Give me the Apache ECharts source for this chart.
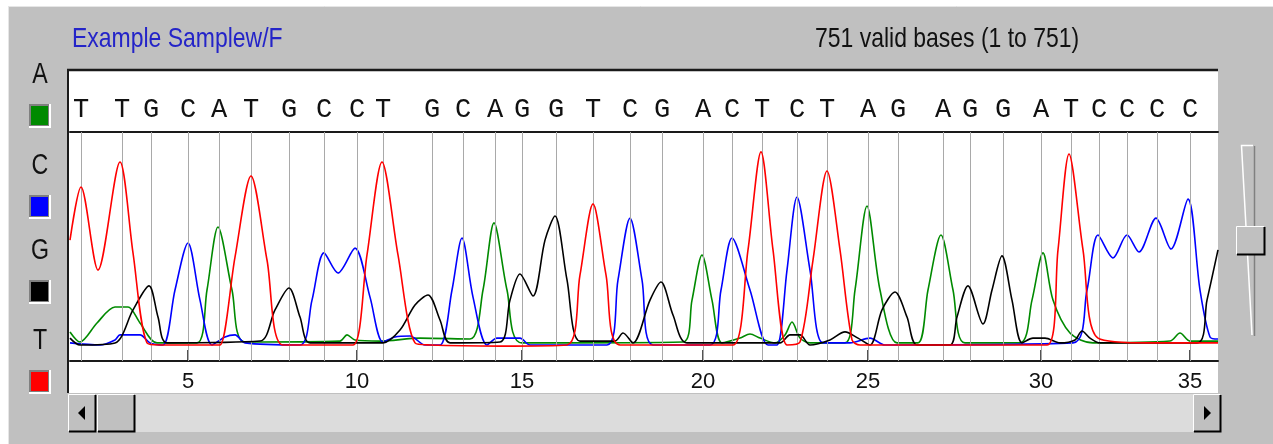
<!DOCTYPE html>
<html>
<head>
<meta charset="utf-8">
<script src="https://cdn.jsdelivr.net/npm/echarts@6/dist/echarts.min.js"></script>
<style>
  html, body { margin: 0; padding: 0; background: #ffffff; }
  #chart { width: 1273px; height: 444px; }
</style>
</head>
<body>
<div id="chart"></div>
<script>
// ---------- DATA ----------
// Trace signal, [scan, intensity] pairs
const traceA = [[0,127],[10,83],[27,166],[45,236],[58,236],[70,166],[87,79],[127,79],[137,310],[148,585],[162,310],[175,83],[270,87],[277,114],[285,92],[310,87],[350,100],[400,96],[413,310],[424,603],[437,310],[452,79],[613,83],[622,266],[632,463],[642,266],[652,79],[670,100],[680,118],[690,100],[705,79],[715,114],[722,170],[730,100],[740,79],[775,79],[785,310],[797,677],[810,310],[827,79],[848,79],[858,310],[871,550],[883,310],[895,79],[950,79],[962,266],[973,472],[983,266],[1000,122],[1023,79],[1100,87],[1110,122],[1120,87],[1148,87]];
const traceC = [[0,79],[30,70],[45,92],[50,114],[70,114],[80,79],[93,70],[105,310],[118,515],[130,266],[142,70],[155,105],[165,114],[175,79],[230,70],[242,266],[254,472],[268,384],[285,493],[300,279],[313,83],[325,105],[340,109],[355,70],[370,70],[382,310],[392,537],[403,279],[417,70],[427,100],[450,100],[460,70],[537,70],[548,354],[560,624],[572,354],[583,70],[640,70],[651,310],[662,537],[680,310],[698,70],[707,70],[717,397],[727,716],[740,397],[753,79],[780,79],[800,100],[815,70],[1003,79],[1017,310],[1028,550],[1043,450],[1057,550],[1069,476],[1086,624],[1101,489],[1118,707],[1130,310],[1140,105],[1148,96]];
const traceG = [[0,100],[10,70],[45,79],[63,223],[79,328],[88,192],[97,79],[190,87],[205,223],[219,319],[230,192],[240,79],[313,79],[330,135],[345,245],[358,288],[370,179],[380,79],[430,83],[440,266],[450,380],[463,284],[475,528],[485,633],[497,354],[510,87],[545,87],[553,122],[563,79],[580,266],[591,345],[603,201],[617,79],[710,79],[720,114],[730,114],[740,70],[760,92],[775,127],[788,100],[800,70],[812,223],[825,301],[837,192],[847,70],[880,70],[887,192],[898,328],[913,162],[922,310],[932,459],[942,266],[952,79],[963,100],[975,100],[990,79],[1005,92],[1012,131],[1020,100],[1030,79],[1127,79],[1137,266],[1148,485]];
const traceT = [[0,528],[11,760],[28,397],[50,869],[63,472],[77,79],[90,70],[145,70],[150,70],[165,454],[181,808],[197,441],[213,70],[260,70],[283,70],[297,463],[312,869],[328,463],[345,79],[360,70],[430,65],[497,70],[510,376],[523,686],[536,376],[550,70],[630,70],[663,70],[678,485],[691,913],[703,485],[717,70],[730,83],[743,441],[757,830],[770,485],[782,92],[790,70],[880,70],[977,70],[988,485],[999,904],[1013,485],[1028,100],[1080,79],[1148,79]];

// Base calls: scan position of each called base (first visible base is #2)
const firstBase = 2;
const basePositions = [11,52,81,118,149,181,219,254,287,313,362,393,425,452,486,523,560,592,633,662,692,727,757,798,828,873,900,933,971,1001,1029,1057,1087,1120];
const baseLetters = ['T','T','G','C','A','T','G','C','C','T','G','C','A','G','G','T','C','G','A','C','T','C','T','A','G','A','G','G','A','T','C','C','C','C'];
const tickBases = [5,10,15,20,25,30,35];

const sampleName = 'Example Samplew/F';
const basesInfo = '751 valid bases (1 to 751)';
const channelNames = ['A','C','G','T'];
const channelColors = ['#008a00','#0000ff','#000000','#ff0000'];

// ---------- CHART ----------
const scanMin = 0, scanMax = 1148;
const tickPos = tickBases.map(b => basePositions[b - firstBase]);
const sans = '"Liberation Sans",Arial,sans-serif';

const chart = echarts.init(document.getElementById('chart'), null, {renderer: 'canvas'});

function bevelRect(x, y, w, h, fill) {
  return [
    {type:'rect', shape:{x:x, y:y, width:w, height:h}, style:{fill:fill}},
    {type:'polyline', shape:{points:[[x+0.5,y+h-1],[x+0.5,y+0.5],[x+w-1,y+0.5]]}, style:{stroke:'#ffffff', lineWidth:1, fill:null}},
    {type:'polyline', shape:{points:[[x+1,y+h-0.5],[x+w-0.5,y+h-0.5],[x+w-0.5,y+1]]}, style:{stroke:'#000000', lineWidth:2, fill:null}}
  ];
}

const graphics = [];
// window panel
graphics.push({type:'rect', z:-10, shape:{x:8, y:6, width:1265, height:438}, style:{fill:'#c0c0c0'}});
graphics.push({type:'line', z:-9, shape:{x1:8.5, y1:6, x2:8.5, y2:444}, style:{stroke:'#e6e6e6', lineWidth:1}});
graphics.push({type:'line', z:-9, shape:{x1:8, y1:6.5, x2:1273, y2:6.5}, style:{stroke:'#e6e6e6', lineWidth:1}});
// white trace box
graphics.push({type:'rect', z:-8, shape:{x:68, y:70, width:1150, height:323}, style:{fill:'#ffffff'}});
graphics.push({type:'line', z:5, shape:{x1:67, y1:70, x2:1218, y2:70}, style:{stroke:'#1a1a1a', lineWidth:2.5}});
graphics.push({type:'line', z:5, shape:{x1:68, y1:70, x2:68, y2:393}, style:{stroke:'#1a1a1a', lineWidth:2}});
// header texts (condensed look via horizontal scaling)
graphics.push({type:'text', x:72, y:39, scaleX:0.82, style:{text:sampleName, fill:'#2424c8', font:'28px ' + sans, textVerticalAlign:'middle'}});
graphics.push({type:'text', x:815, y:39, scaleX:0.82, style:{text:basesInfo, fill:'#111111', font:'28px ' + sans, textVerticalAlign:'middle'}});
// channel legend (letter above coloured square)
const legendY = [75, 166, 251, 341];
channelNames.forEach((n, i) => {
  graphics.push({type:'text', x:40, y:legendY[i], scaleX:0.8, style:{text:n, fill:'#111111', font:'29px ' + sans, textAlign:'center', textVerticalAlign:'middle'}});
  const sy = legendY[i] + 29;
  graphics.push({type:'rect', shape:{x:29, y:sy, width:22, height:24}, style:{fill:'#ffffff'}});
  graphics.push({type:'rect', shape:{x:29, y:sy, width:20, height:22}, style:{fill:'#808080'}});
  graphics.push({type:'rect', shape:{x:31, y:sy+2, width:17, height:19}, style:{fill:channelColors[i]}});
});
// horizontal scrollbar
graphics.push({type:'rect', shape:{x:96, y:394, width:1097, height:38}, style:{fill:'#dcdcdc'}});
graphics.push.apply(graphics, bevelRect(68, 394, 28, 38, '#c0c0c0'));
graphics.push({type:'polygon', shape:{points:[[78,413],[85,406],[85,420]]}, style:{fill:'#000000'}});
graphics.push.apply(graphics, bevelRect(97, 394, 38, 38, '#c0c0c0'));
graphics.push.apply(graphics, bevelRect(1193, 394, 28, 38, '#c0c0c0'));
graphics.push({type:'polygon', shape:{points:[[1211,413],[1204,406],[1204,420]]}, style:{fill:'#000000'}});
// vertical slider
graphics.push({type:'polyline', shape:{points:[[1253,145.5],[1241.5,145.5],[1252,335]]}, style:{stroke:'#ffffff', lineWidth:1.5, fill:null}});
graphics.push({type:'line', shape:{x1:1254.5, y1:146, x2:1254.5, y2:336}, style:{stroke:'#808080', lineWidth:1.5}});
graphics.push.apply(graphics, bevelRect(1236, 226, 29, 29, '#c0c0c0'));

const traces = [traceA, traceC, traceG, traceT];

const series = [{
  name: 'base positions',
  type: 'line',
  data: [],
  z: 1,
  silent: true,
  markLine: {
    silent: true,
    symbol: 'none',
    label: {show: false},
    lineStyle: {color: '#a9a9a9', width: 1, type: 'solid'},
    emphasis: {disabled: true},
    animation: false,
    data: basePositions.map(p => ({xAxis: p}))
  }
}];
traces.forEach((t, i) => {
  series.push({
    name: channelNames[i],
    type: 'line',
    data: t,
    z: 3 + i,
    showSymbol: false,
    smooth: 0.3,
    lineStyle: {color: channelColors[i], width: 1.6},
    itemStyle: {color: channelColors[i]},
    animation: false,
    silent: true
  });
});

chart.setOption({
  animation: false,
  backgroundColor: '#ffffff',
  grid: {left: 70, right: 55, top: 132, bottom: 83, containLabel: false},
  xAxis: [{
    type: 'value', min: scanMin, max: scanMax, position: 'bottom',
    axisLine: {show: true, onZero: false, lineStyle: {color: '#1a1a1a', width: 2}},
    axisTick: {show: true, inside: true, length: 11, customValues: tickPos, lineStyle: {color: '#1a1a1a', width: 1.5}},
    axisLabel: {show: true, customValues: tickPos, margin: 10, color: '#111111', fontFamily: sans, fontSize: 22,
      formatter: v => String(tickBases[tickPos.indexOf(v)])},
    splitLine: {show: false}
  }, {
    type: 'value', min: scanMin, max: scanMax, position: 'top',
    axisLine: {show: true, onZero: false, lineStyle: {color: '#1a1a1a', width: 2}},
    axisTick: {show: false},
    axisLabel: {show: true, customValues: basePositions, margin: 9, color: '#111111',
      fontFamily: '"Liberation Mono","DejaVu Sans Mono",monospace', fontSize: 27,
      formatter: v => baseLetters[basePositions.indexOf(v)]},
    splitLine: {show: false}
  }],
  yAxis: {
    type: 'value', min: 0, max: 1000,
    axisLine: {show: false}, axisTick: {show: false}, axisLabel: {show: false}, splitLine: {show: false}
  },
  graphic: graphics,
  series: series
});
</script>
</body>
</html>
